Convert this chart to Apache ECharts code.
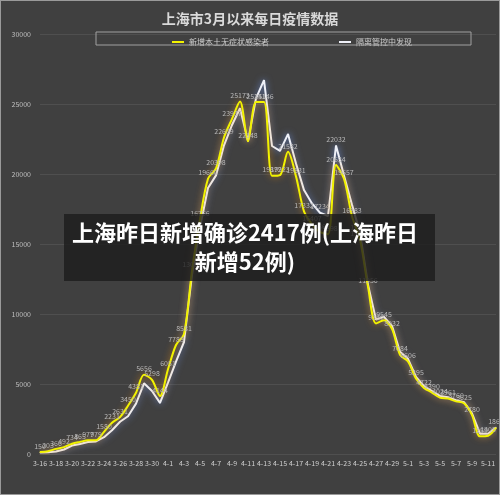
<!DOCTYPE html>
<html><head><meta charset="utf-8">
<script src="https://cdn.jsdelivr.net/npm/echarts@6/dist/echarts.min.js"></script>
<style>html,body{margin:0;padding:0;background:#404040}#c{width:498px;height:493px;border:1px solid #9a9a9a}</style>
</head><body><div id="c"></div><script>
const dates = ['3-16','3-17','3-18','3-19','3-20','3-21','3-22','3-23','3-24','3-25','3-26','3-27','3-28','3-29','3-30','3-31',
'4-1','4-2','4-3','4-4','4-5','4-6','4-7','4-8','4-9','4-10','4-11','4-12','4-13','4-14','4-15','4-16','4-17','4-18','4-19','4-20','4-21','4-22','4-23','4-24','4-25','4-26','4-27','4-28','4-29','4-30',
'5-1','5-2','5-3','5-4','5-5','5-6','5-7','5-8','5-9','5-10','5-11','5-12'];
const asymptomatic = [150,203,366,492,734,865,977,979,1580,2231,2631,3450,4381,5656,5298,4144,
6051,7788,8581,13086,16766,19660,20398,22609,23937,25173,22348,25141,25146,19872,19923,21582,19831,17332,16407,15861,15698,20634,19657,16983,15319,11956,9330,9545,8932,7084,
6606,5395,4722,4390,4024,3961,3760,3625,2780,1259,1305,1869];
const quarantine = [100,130,180,320,600,720,850,900,1200,1700,2300,2700,3600,5050,4500,3650,
5100,6600,8000,12800,16200,19000,19900,22050,23500,24700,22348,25400,26700,22000,21650,22850,20750,18850,17900,17234,17000,22032,19900,17800,15795,12100,9600,9800,9150,7300,
6800,5500,4850,4500,4150,4050,3850,3700,2900,1450,1450,1889];
const quarantineLabeled = ['4-20','4-22','4-25'];
const seriesNames = ['新增本土无症状感染者','隔离管控中发现'];
const titleText = '上海市3月以来每日疫情数据';
const bannerText = '上海昨日新增确诊2417例(上海昨日\n新增52例)';

const FONT = '"Noto Sans CJK SC","Noto Sans",sans-serif';
const chart = echarts.init(document.getElementById('c'));
const lbl = {show:true, position:'top', distance:2, fontSize:7, color:'#b8b8b8', fontFamily:FONT};
chart.setOption({
  backgroundColor:'#404040',
  animation:false,
  title:{text:titleText,left:'center',top:6,textStyle:{fontSize:14,fontWeight:'bold',color:'#d9d9d9',fontFamily:FONT}},
  legend:{data:seriesNames,left:166,top:32,itemGap:70,itemWidth:12,itemHeight:2,icon:'rect',
    textStyle:{fontSize:8,color:'#cfcfcf',fontFamily:FONT}},
  grid:{left:39,right:3,top:33,bottom:40},
  xAxis:{type:'category',boundaryGap:false,data:dates,
    axisLine:{show:false},axisTick:{show:false},
    axisLabel:{interval:1,fontSize:7,color:'#cfcfcf',margin:6,fontFamily:FONT}},
  yAxis:{type:'value',min:0,max:30000,interval:5000,
    axisLine:{show:false},axisTick:{show:false},
    axisLabel:{fontSize:7,color:'#bfbfbf',margin:9,fontFamily:FONT,formatter:v=>String(v)},
    splitLine:{lineStyle:{color:'#4f4f4f',width:1}}},
  series:[
    {name:seriesNames[1],type:'line',data:quarantine.map((v,i)=>quarantineLabeled.includes(dates[i])?{value:v,label:lbl}:v),
     symbol:'circle',symbolSize:1,itemStyle:{color:'#eef0f8'},
     lineStyle:{color:'#eef0f8',width:2,shadowBlur:7,shadowColor:'rgba(120,160,255,0.75)'},
     label:{show:false},z:2},
    {name:seriesNames[0],type:'line',data:asymptomatic,smooth:0.3,
     symbol:'circle',symbolSize:1,itemStyle:{color:'#f2f200'},
     lineStyle:{color:'#f2f200',width:2,shadowBlur:7,shadowColor:'rgba(255,150,0,0.75)'},
     label:lbl,z:3}
  ],
  graphic:[
    {type:'rect',shape:{x:95,y:31,width:375,height:13},style:{fill:'none',stroke:'#a0a0a0',lineWidth:1},z:10},
    {type:'rect',shape:{x:63,y:213,width:371,height:67},style:{fill:'rgba(28,28,28,0.8)'},z:100},
    {type:'text',x:244,y:246,z:101,style:{text:bannerText,align:'center',verticalAlign:'middle',
      font:'bold 22px '+FONT,lineHeight:29,fill:'#ffffff'}}
  ]
});
</script></body></html>
